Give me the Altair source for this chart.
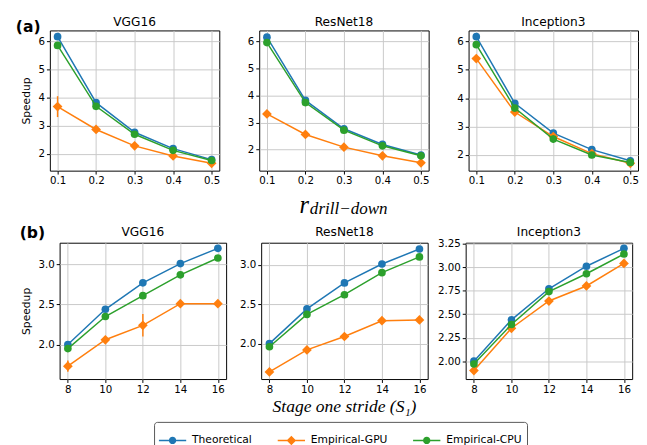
import altair as alt
import pandas as pd

# ---------------- data ----------------
series_names = ["Theoretical", "Empirical-GPU", "Empirical-CPU"]
series_colors = ["#1f77b4", "#ff7f0e", "#2ca02c"]
series_shapes = ["circle", "diamond", "circle"]
series_sizes = [62, 100, 62]
models = ["VGG16", "ResNet18", "Inception3"]

# (a) speedup vs r_drill-down
r_drill = [0.1, 0.2, 0.3, 0.4, 0.5]
a_theoretical = {
    "VGG16": [6.16, 3.82, 2.77, 2.19, 1.80],
    "ResNet18": [6.16, 3.82, 2.77, 2.19, 1.80],
    "Inception3": [6.16, 3.82, 2.77, 2.19, 1.80],
}
a_gpu = {
    "VGG16": [3.68, 2.87, 2.29, 1.93, 1.67],
    "ResNet18": [3.32, 2.56, 2.09, 1.77, 1.51],
    "Inception3": [5.39, 3.51, 2.65, 2.05, 1.71],
}
a_cpu = {
    "VGG16": [5.85, 3.69, 2.70, 2.13, 1.77],
    "ResNet18": [5.96, 3.74, 2.72, 2.14, 1.77],
    "Inception3": [5.88, 3.65, 2.56, 2.00, 1.74],
}
a_gpu_err = {
    "VGG16": [0.37, 0.05, 0.05, 0.03, 0.03],
    "ResNet18": [0.03, 0.03, 0.02, 0.02, 0.02],
    "Inception3": [0.04, 0.03, 0.03, 0.02, 0.02],
}
a_cpu_err = {
    "VGG16": [0.03, 0.03, 0.02, 0.02, 0.02],
    "ResNet18": [0.03, 0.03, 0.02, 0.02, 0.02],
    "Inception3": [0.03, 0.03, 0.13, 0.03, 0.02],
}

# (b) speedup vs stage one stride
stride = [8, 10, 12, 14, 16]
b_theoretical = {
    "VGG16": [2.00, 2.44, 2.77, 3.01, 3.20],
    "ResNet18": [2.00, 2.44, 2.77, 3.01, 3.20],
    "Inception3": [2.00, 2.44, 2.77, 3.01, 3.20],
}
b_gpu = {
    "VGG16": [1.73, 2.06, 2.24, 2.51, 2.51],
    "ResNet18": [1.64, 1.92, 2.09, 2.29, 2.30],
    "Inception3": [1.90, 2.35, 2.64, 2.80, 3.04],
}
b_cpu = {
    "VGG16": [1.95, 2.35, 2.61, 2.87, 3.08],
    "ResNet18": [1.96, 2.37, 2.62, 2.90, 3.10],
    "Inception3": [1.97, 2.39, 2.74, 2.93, 3.14],
}
b_gpu_err = {
    "VGG16": [0.07, 0.03, 0.14, 0.02, 0.01],
    "ResNet18": [0.01, 0.01, 0.01, 0.01, 0.01],
    "Inception3": [0.01, 0.01, 0.01, 0.01, 0.01],
}
b_cpu_err = {
    "VGG16": [0.01, 0.01, 0.01, 0.01, 0.01],
    "ResNet18": [0.01, 0.01, 0.01, 0.01, 0.01],
    "Inception3": [0.01, 0.01, 0.01, 0.01, 0.01],
}

a_ydomains = {"VGG16": [1.41, 6.38], "ResNet18": [1.22, 6.41], "Inception3": [1.45, 6.38]}
b_ydomains = {"VGG16": [1.57, 3.27], "ResNet18": [1.55, 3.28], "Inception3": [1.81, 3.26]}
a_yticks = [2, 3, 4, 5, 6]
b_yticks = {"VGG16": [2.0, 2.5, 3.0], "ResNet18": [2.0, 2.5, 3.0],
            "Inception3": [2.0, 2.25, 2.5, 2.75, 3.0, 3.25]}
b_yfmt = {"VGG16": ".1f", "ResNet18": ".1f", "Inception3": ".2f"}

# ---------------- legend symbols (line + marker) ----------------
path_line = "M-1,-0.055L1,-0.055L1,0.055L-1,0.055Z"
path_circle = "M-0.27,0A0.27,0.27,0,1,1,0.27,0A0.27,0.27,0,1,1,-0.27,0Z"
path_diamond = "M0,-0.35L0.35,0L0,0.35L-0.35,0Z"
legend_shapes = [path_line + " " + path_circle,
                 path_line + " " + path_diamond,
                 path_line + " " + path_circle]

legend_def = alt.Legend(
    title=None,
    orient="none",
    direction="horizontal",
    legendX=145,
    legendY=402,
    symbolSize=784,
    symbolStrokeWidth=0,
    labelFont="DejaVu Sans",
    labelFontSize=11,
    labelColor="black",
    labelOffset=6,
    columnPadding=26,
    padding=5,
    strokeColor="#555555",
    cornerRadius=3,
)


def legend_layer():
    df = pd.DataFrame({"series": series_names})
    return alt.Chart(df).transform_filter("false").mark_point(filled=True, opacity=1).encode(
        color=alt.Color("series:N", scale=alt.Scale(domain=series_names, range=series_colors),
                        legend=legend_def),
        shape=alt.Shape("series:N", scale=alt.Scale(domain=series_names, range=legend_shapes),
                        legend=legend_def),
    )


def label(text, x, y, font, size, weight="normal", style="normal", align="left",
          baseline="alphabetic", opacity=1.0):
    return alt.Chart(pd.DataFrame({"t": [text]})).mark_text(
        font=font, fontSize=size, fontWeight=weight, fontStyle=style,
        align=align, baseline=baseline, color="black", opacity=opacity,
    ).encode(x=alt.value(x), y=alt.value(y), text="t:N")


def spacer():
    return alt.Chart(pd.DataFrame({"a": [0]})).transform_filter("false").mark_point().properties(
        width=1, height=1, view=alt.ViewBackground(stroke="transparent"))


def make_panel(model, xs, vals, errs, xdom, ydom, xticks, yticks, xfmt, yfmt,
               w, h, ytitle, extras, title_y):
    layers = []
    xscale = alt.Scale(domain=xdom, nice=False, zero=False)
    yscale = alt.Scale(domain=ydom, nice=False, zero=False)
    xaxis = alt.Axis(values=xticks, format=xfmt, title=None)
    yaxis = alt.Axis(values=yticks, format=yfmt, title=ytitle, titlePadding=7)
    for s, col, shp, sz in zip(series_names, series_colors, series_shapes, series_sizes):
        v = vals[s]
        e = errs[s]
        df = pd.DataFrame({
            "x": xs,
            "y": v,
            "lo": [a - b for a, b in zip(v, e)],
            "hi": [a + b for a, b in zip(v, e)],
            "series": s,
        })
        base = alt.Chart(df)
        xenc = alt.X("x:Q", scale=xscale, axis=xaxis)
        rule = base.mark_rule(strokeWidth=1.5, color=col).encode(
            x=xenc, y=alt.Y("lo:Q", scale=yscale, axis=yaxis), y2="hi:Q")
        line = base.mark_line(strokeWidth=1.5, color=col).encode(
            x=xenc, y=alt.Y("y:Q", scale=yscale, axis=yaxis))
        pts = base.mark_point(filled=True, opacity=1, shape=shp, size=sz, color=col).encode(
            x=xenc, y=alt.Y("y:Q", scale=yscale, axis=yaxis))
        layers += [rule, line, pts]
    layers.append(label(model, w / 2, title_y, "DejaVu Sans", 12.5, align="center"))
    layers += extras
    return alt.layer(*layers).properties(width=w, height=h)


AW, AH = 174, 144
BW, BH = 171, 140

# ---------------- row (a) ----------------
row_a_panels = []
for i, m in enumerate(models):
    vals = {"Theoretical": a_theoretical[m], "Empirical-GPU": a_gpu[m], "Empirical-CPU": a_cpu[m]}
    errs = {"Theoretical": [0, 0, 0, 0, 0], "Empirical-GPU": a_gpu_err[m], "Empirical-CPU": a_cpu_err[m]}
    extras = []
    if i == 0:
        extras.append(label("(a)", -35, -3, "DejaVu Sans", 16, weight="bold", baseline="middle"))
        extras.append(legend_layer())
    if i == 1:
        extras.append(label("r", AW / 2 - 36, AH + 43, "Liberation Serif", 25, style="italic", align="right"))
        extras.append(label("drill\u2212down", AW / 2 - 35, AH + 45, "Liberation Serif", 17.5, style="italic"))
    row_a_panels.append(make_panel(
        m, r_drill, vals, errs, [0.08, 0.52], a_ydomains[m], r_drill, a_yticks, ".1f", "d",
        AW, AH, "Speedup" if i == 0 else None, extras, -5))

row_a = alt.hconcat(spacer(), alt.hconcat(*row_a_panels, spacing=27), spacing=0)

# ---------------- row (b) ----------------
row_b_panels = []
for i, m in enumerate(models):
    vals = {"Theoretical": b_theoretical[m], "Empirical-GPU": b_gpu[m], "Empirical-CPU": b_cpu[m]}
    errs = {"Theoretical": [0, 0, 0, 0, 0], "Empirical-GPU": b_gpu_err[m], "Empirical-CPU": b_cpu_err[m]}
    extras = [label("(b)", BW / 2, -10, "DejaVu Sans", 16, weight="bold", align="center",
                    baseline="middle", opacity=0)]
    if i == 0:
        extras.append(label("(b)", -41, -10, "DejaVu Sans", 16, weight="bold", baseline="middle"))
        extras.append(label("(b)", -45, -10, "DejaVu Sans", 16, weight="bold", baseline="middle", opacity=0))
    if i == 1:
        extras.append(label("Stage one stride (S\u2081)", BW / 2, BH + 34, "Liberation Serif", 18,
                            style="italic", align="center"))
    row_b_panels.append(make_panel(
        m, stride, vals, errs, [7.56, 16.44], b_ydomains[m], stride, b_yticks[m], "d", b_yfmt[m],
        BW, BH, "Speedup" if i == 0 else None, extras, -7))

row_b = alt.hconcat(
    spacer(),
    alt.hconcat(alt.hconcat(row_b_panels[0], row_b_panels[1], spacing=12),
                row_b_panels[2], spacing=8),
    spacing=0)

chart = alt.concat(row_a, row_b, columns=1, spacing=6, align="none").properties(
    padding={"left": 4, "top": 1, "right": 0, "bottom": 0}
).configure_view(
    stroke="black", strokeWidth=1
).configure_axis(
    domain=False, tickColor="black", tickSize=3.5, tickWidth=1,
    labelFont="DejaVu Sans", labelFontSize=10.5, labelColor="black", labelPadding=2,
    titleFont="DejaVu Sans", titleFontSize=11, titleFontWeight="normal", titleColor="black",
    gridColor="#c8c8c8", gridWidth=1,
)

chart.save("out.html", embed_options={"renderer": "svg", "actions": False})
